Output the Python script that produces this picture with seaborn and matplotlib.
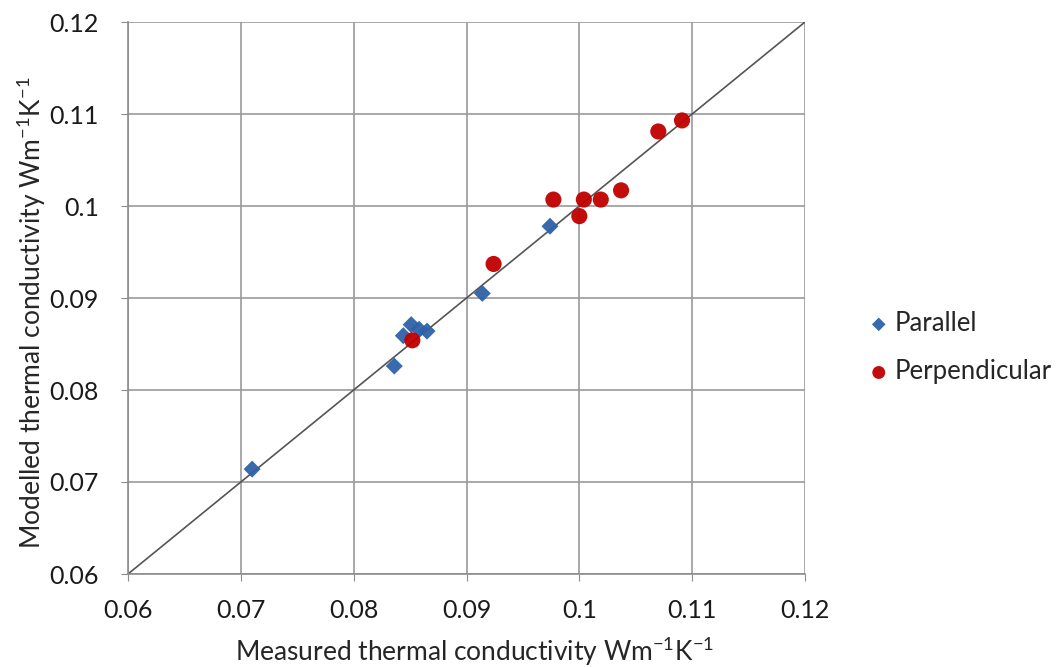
import matplotlib
matplotlib.use("Agg")
import matplotlib.pyplot as plt
import numpy as np
import pandas as pd
import seaborn as sns

# measured vs modelled thermal conductivity (W m^-1 K^-1)
parallel_measured = [0.0710, 0.0836, 0.0844, 0.0851, 0.0858, 0.0865, 0.0914, 0.0974]
parallel_modelled = [0.0714, 0.0826, 0.0859, 0.0871, 0.0866, 0.0864, 0.0905, 0.0978]
perp_measured = [0.0852, 0.0924, 0.0977, 0.1000, 0.1004, 0.1019, 0.1037, 0.1070, 0.1091]
perp_modelled = [0.0854, 0.0937, 0.1007, 0.0989, 0.1007, 0.1007, 0.1017, 0.1081, 0.1093]
ticks = [0.06, 0.07, 0.08, 0.09, 0.1, 0.11, 0.12]
tick_labels = ["0.06", "0.07", "0.08", "0.09", "0.1", "0.11", "0.12"]

df = pd.DataFrame({
    "measured": parallel_measured + perp_measured,
    "modelled": parallel_modelled + perp_modelled,
    "series": ["Parallel"] * len(parallel_measured) + ["Perpendicular"] * len(perp_measured),
})

sns.set_style("white")
plt.rcParams["font.family"] = ["Lato", "DejaVu Sans"]
plt.rcParams["mathtext.fontset"] = "custom"
plt.rcParams["mathtext.rm"] = "Lato"
plt.rcParams["mathtext.default"] = "regular"

fig = plt.figure(figsize=(10.61, 6.67), dpi=100)
ax = fig.add_axes([128 / 1061, 1 - 574 / 667, 677 / 1061, 552 / 667])

palette = {"Parallel": "#2D62A8", "Perpendicular": "#C00000"}
markers = {"Parallel": "D", "Perpendicular": "o"}
sizes = {"Parallel": 75, "Perpendicular": 135}

for name, sub in df.groupby("series"):
    sns.scatterplot(data=sub, x="measured", y="modelled", color=palette[name],
                    marker=markers[name], s=sizes[name], edgecolor="none",
                    alpha=0.95, ax=ax, label=name, zorder=3)

# 1:1 line
ax.plot([0.06, 0.12], [0.06, 0.12], color="#555555", lw=1.2, zorder=2)

ax.set_xlim(0.06, 0.12)
ax.set_ylim(0.06, 0.12)
ax.set_xticks(ticks)
ax.set_xticklabels(tick_labels)
ax.set_yticks(ticks)
ax.set_yticklabels(tick_labels)
ax.grid(True, color="#9a9a9a", lw=1.2)
ax.set_axisbelow(True)
for side in ["top", "right"]:
    ax.spines[side].set_visible(False)
for side in ["left", "bottom"]:
    ax.spines[side].set_color("#8c8c8c")
    ax.spines[side].set_linewidth(1.2)
ax.tick_params(axis="both", labelsize=18, colors="#8c8c8c", labelcolor="#1a1a1a",
               length=5, direction="out", left=True, bottom=True)
ax.tick_params(axis="x", pad=13)
ax.tick_params(axis="y", pad=16)

ax.set_xlabel(r"Measured thermal conductivity Wm$^{-1}$K$^{-1}$", fontsize=19)
ax.set_ylabel(r"Modelled thermal conductivity Wm$^{-1}$K$^{-1}$", fontsize=19)
ax.xaxis.set_label_coords(0.512, -0.141)
ax.xaxis.label.set_va("center")
ax.yaxis.set_label_coords(-0.143, 0.473)
ax.yaxis.label.set_va("center")

ax.legend(loc="center left", bbox_to_anchor=(1.071, 0.41), frameon=False,
          fontsize=18.5, handletextpad=0.0, labelspacing=0.9, markerscale=0.8,
          handlelength=1.2, borderaxespad=0.0)

fig.savefig("out.png", dpi=100)
